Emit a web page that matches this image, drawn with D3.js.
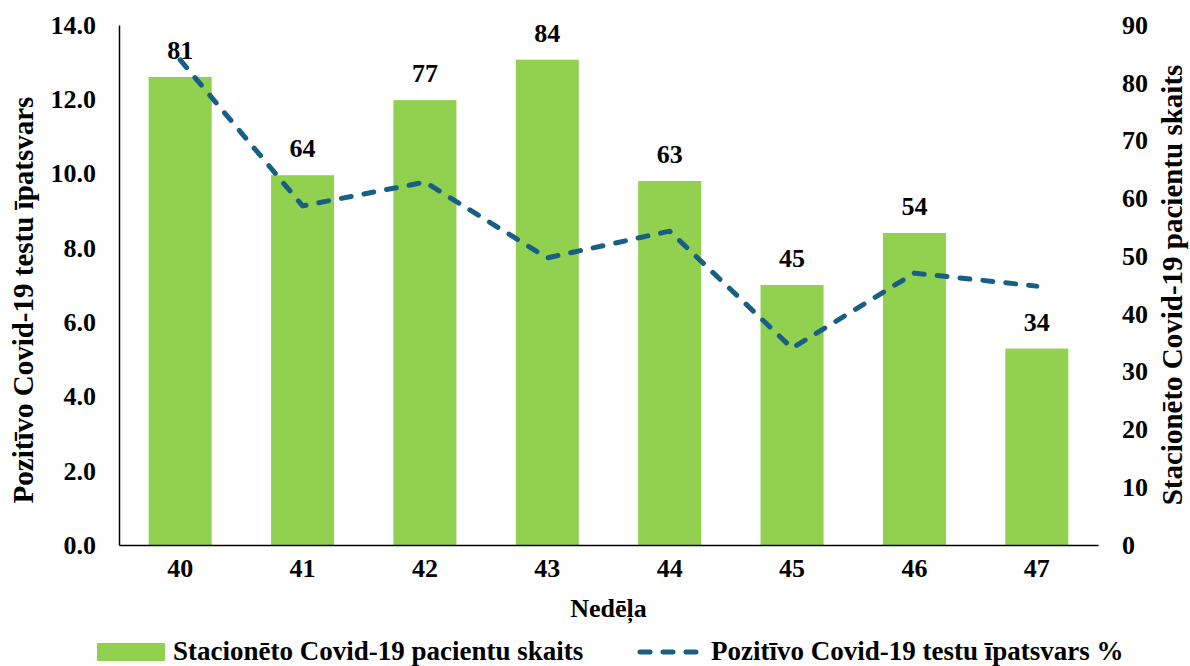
<!DOCTYPE html>
<html>
<head>
<meta charset="utf-8">
<script src="https://cdn.jsdelivr.net/npm/d3@7"></script>
<style>
  body { margin: 0; background: #fff; }
  text { font-family: "Liberation Serif", "Times New Roman", serif; font-weight: bold; fill: #000; }
</style>
</head>
<body>
<svg width="1190" height="666"></svg>
<script>
// data
var weeks = ["40", "41", "42", "43", "44", "45", "46", "47"];
var patients = [81, 64, 77, 84, 63, 45, 54, 34];
var positiveShare = [13.06, 9.13, 9.77, 7.73, 8.45, 5.30, 7.32, 6.97];
var leftTicks = [0, 2, 4, 6, 8, 10, 12, 14];
var rightTicks = [0, 10, 20, 30, 40, 50, 60, 70, 80, 90];

var svg = d3.select("svg"),
    margin = {top: 25, right: 92, bottom: 121, left: 119},
    width = +svg.attr("width") - margin.left - margin.right,
    height = +svg.attr("height") - margin.top - margin.bottom,
    g = svg.append("g").attr("transform", "translate(" + margin.left + "," + margin.top + ")");

var data = weeks.map(function(w, i) { return {week: w, count: patients[i], share: positiveShare[i]}; });

var x = d3.scaleBand()
    .domain(weeks)
    .range([0, width])
    .paddingInner(0.485)
    .paddingOuter(0.2425);

var yLeft = d3.scaleLinear().domain([0, 14]).range([height, 0]);
var yRight = d3.scaleLinear().domain([0, 90]).range([height, 0]);

// bars
g.append("g")
  .selectAll("rect")
  .data(data)
  .enter().append("rect")
    .attr("x", function(d) { return x(d.week); })
    .attr("y", function(d) { return yRight(d.count); })
    .attr("width", x.bandwidth())
    .attr("height", function(d) { return height - yRight(d.count); })
    .attr("fill", "#92d050");

// bar labels
g.append("g")
  .selectAll("text")
  .data(data)
  .enter().append("text")
    .attr("x", function(d) { return x(d.week) + x.bandwidth() / 2; })
    .attr("y", function(d) { return yRight(d.count) - 18; })
    .attr("text-anchor", "middle")
    .attr("font-size", 26)
    .text(function(d) { return d.count; });

// dashed line
var line = d3.line()
    .x(function(d) { return x(d.week) + x.bandwidth() / 2; })
    .y(function(d) { return yLeft(d.share); });

g.append("path")
    .datum(data)
    .attr("d", line)
    .attr("fill", "none")
    .attr("stroke", "#175f84")
    .attr("stroke-width", 5)
    .attr("stroke-dasharray", "10,13")
    .attr("stroke-linecap", "round")
    .attr("stroke-linejoin", "round");

// axes
function styleTicks(sel) {
  sel.selectAll("text")
    .attr("font-size", 26)
    .attr("font-family", "Liberation Serif")
    .attr("font-weight", "bold");
}

var bottom = g.append("g")
    .attr("transform", "translate(0," + height + ")")
    .call(d3.axisBottom(x).tickSize(0).tickPadding(14));
bottom.select(".domain").attr("stroke", "#000").attr("stroke-width", 1.5);
styleTicks(bottom);

var left = g.append("g")
    .call(d3.axisLeft(yLeft).tickValues(leftTicks).tickFormat(d3.format(".1f")).tickSize(0).tickPadding(23));
left.select(".domain").attr("stroke", "#000").attr("stroke-width", 1.5);
styleTicks(left);

var right = g.append("g")
    .attr("transform", "translate(" + width + ",0)")
    .call(d3.axisRight(yRight).tickValues(rightTicks).tickSize(0).tickPadding(24));
right.select(".domain").remove();
styleTicks(right);

// axis titles
svg.append("text")
    .attr("transform", "translate(33,300) rotate(-90)")
    .attr("text-anchor", "middle")
    .attr("font-size", 29)
    .text("Pozitīvo Covid-19 testu īpatsvars");

svg.append("text")
    .attr("transform", "translate(1182,285) rotate(-90)")
    .attr("text-anchor", "middle")
    .attr("font-size", 29)
    .text("Stacionēto Covid-19 pacientu skaits");

svg.append("text")
    .attr("x", margin.left + width / 2)
    .attr("y", 617)
    .attr("text-anchor", "middle")
    .attr("font-size", 26)
    .text("Nedēļa");

// legend
var legend = svg.append("g").attr("font-size", 27);

legend.append("rect")
    .attr("x", 97)
    .attr("y", 643)
    .attr("width", 68)
    .attr("height", 18)
    .attr("fill", "#92d050");

legend.append("text")
    .attr("x", 173)
    .attr("y", 660)
    .text("Stacionēto Covid-19 pacientu skaits");

legend.append("line")
    .attr("x1", 640)
    .attr("x2", 697)
    .attr("y1", 652)
    .attr("y2", 652)
    .attr("stroke", "#175f84")
    .attr("stroke-width", 5)
    .attr("stroke-dasharray", "10,13")
    .attr("stroke-linecap", "round");

legend.append("text")
    .attr("x", 711)
    .attr("y", 660)
    .text("Pozitīvo Covid-19 testu īpatsvars %");
</script>
</body>
</html>
